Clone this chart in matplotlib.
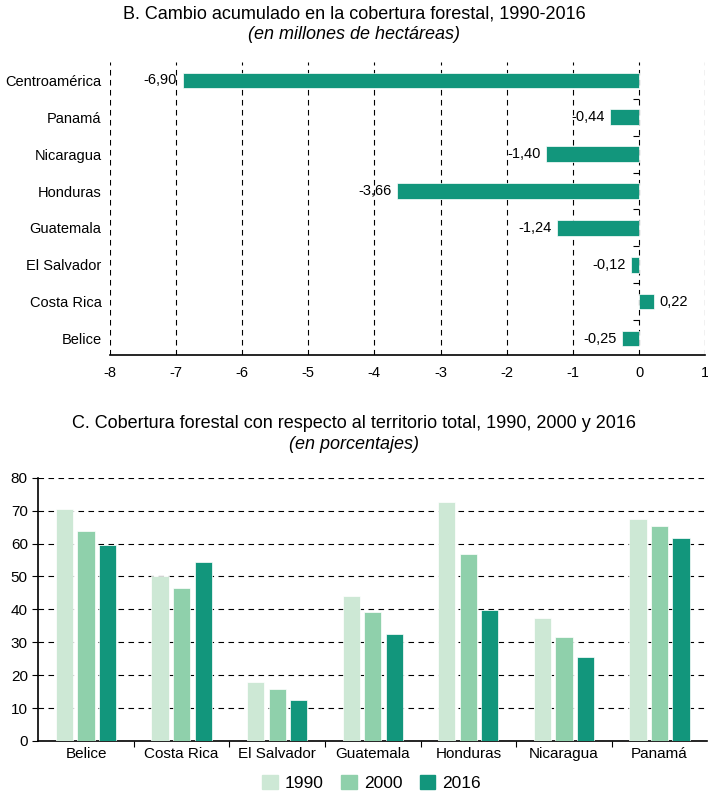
import numpy as np
import matplotlib.pyplot as plt
from matplotlib.patches import Patch

plt.rcParams['font.family'] = ['Liberation Sans', 'DejaVu Sans']
plt.rcParams['axes.unicode_minus'] = False

# panel B data (bottom to top)
paises_b = ['Belice', 'Costa Rica', 'El Salvador', 'Guatemala', 'Honduras', 'Nicaragua', 'Panamá', 'Centroamérica']
cambio = [-0.25, 0.22, -0.12, -1.24, -3.66, -1.40, -0.44, -6.90]

# panel C data
paises_c = ['Belice', 'Costa Rica', 'El Salvador', 'Guatemala', 'Honduras', 'Nicaragua', 'Panamá']
anios = ['1990', '2000', '2016']
cob_1990 = [70.6, 50.0, 18.0, 44.2, 72.6, 37.4, 67.6]
cob_2000 = [63.8, 46.4, 15.9, 39.1, 56.9, 31.5, 65.3]
cob_2016 = [59.4, 54.5, 12.5, 32.5, 39.8, 25.6, 61.8]

colores = ['#cde8d5', '#8fd0ab', '#12967c']

fig = plt.figure(figsize=(7.08, 7.93), dpi=100)

# ---- panel B
ax1 = fig.add_axes([0.155, 0.552, 0.841, 0.370])
y = np.arange(len(paises_b))
bars = ax1.barh(y, cambio, height=0.42, color=colores[2], edgecolor='white', linewidth=0.5, zorder=3)
ax1.bar_label(bars, labels=[f'{v:.2f}'.replace('.', ',') for v in cambio], padding=4, fontsize=10.5)
ax1.set_xlim(-8, 1)
ax1.set_ylim(-0.45, 7.5)
ax1.set_xticks(range(-8, 2))
ax1.set_yticks(y)
ax1.set_yticklabels(paises_b)
ax1.tick_params(axis='y', length=0, labelsize=10.5, pad=6)
ax1.tick_params(axis='x', length=0, labelsize=10.5, pad=8)
ax1.xaxis.grid(True, linestyle=(0, (5, 4)), color='black', linewidth=0.8)
for s in ['left', 'right', 'top']:
    ax1.spines[s].set_visible(False)
ax1.spines['bottom'].set_linewidth(1.2)
sec = ax1.secondary_yaxis(8 / 9)
sec.set_yticks(y[:-1] + 0.5)
sec.set_yticklabels([])
sec.tick_params(length=4, width=0.8, direction='in')
sec.spines['left'].set_linewidth(1.2)
sec.spines['right'].set_visible(False)

fig.text(0.5, 0.982, 'B. Cambio acumulado en la cobertura forestal, 1990-2016', ha='center', va='center', fontsize=13)
fig.text(0.5, 0.956, '(en millones de hectáreas)', ha='center', va='center', fontsize=13, style='italic')

# ---- panel C
ax2 = fig.add_axes([0.054, 0.0656, 0.945, 0.332])
x = np.arange(len(paises_c))
w = 0.18
step = 0.225
for i, (vals, lab) in enumerate(zip([cob_1990, cob_2000, cob_2016], anios)):
    ax2.bar(x + (i - 1) * step, vals, width=w, color=colores[i], edgecolor='white', linewidth=0.5, label=lab, zorder=3)
ax2.set_xlim(-0.5, len(paises_c) - 0.5)
ax2.set_ylim(0, 80)
ax2.set_yticks(range(0, 81, 10))
ax2.yaxis.grid(True, linestyle=(0, (5, 4)), color='black', linewidth=0.8)
ax2.set_axisbelow(True)
ax2.set_xticks(x[:-1] + 0.5)
ax2.set_xticklabels([])
ax2.set_xticks(x, minor=True)
ax2.set_xticklabels(paises_c, minor=True, fontsize=11)
ax2.tick_params(axis='x', which='major', length=4)
ax2.tick_params(axis='x', which='minor', length=0, pad=4)
ax2.tick_params(axis='y', length=4, labelsize=11)
for s in ['right', 'top']:
    ax2.spines[s].set_visible(False)
ax2.spines['left'].set_linewidth(1.2)
ax2.spines['bottom'].set_linewidth(1.2)

handles = [Patch(color=c, label=a) for c, a in zip(colores, anios)]
fig.legend(handles=handles, loc='center', bbox_to_anchor=(0.525, 0.013), ncol=3, frameon=False,
           fontsize=12.5, handlelength=0.9, handleheight=0.9, handletextpad=0.4, columnspacing=1.0)

fig.text(0.5, 0.466, 'C. Cobertura forestal con respecto al territorio total, 1990, 2000 y 2016', ha='center', va='center', fontsize=13)
fig.text(0.5, 0.440, '(en porcentajes)', ha='center', va='center', fontsize=13, style='italic')

fig.savefig('out.png', dpi=100)
